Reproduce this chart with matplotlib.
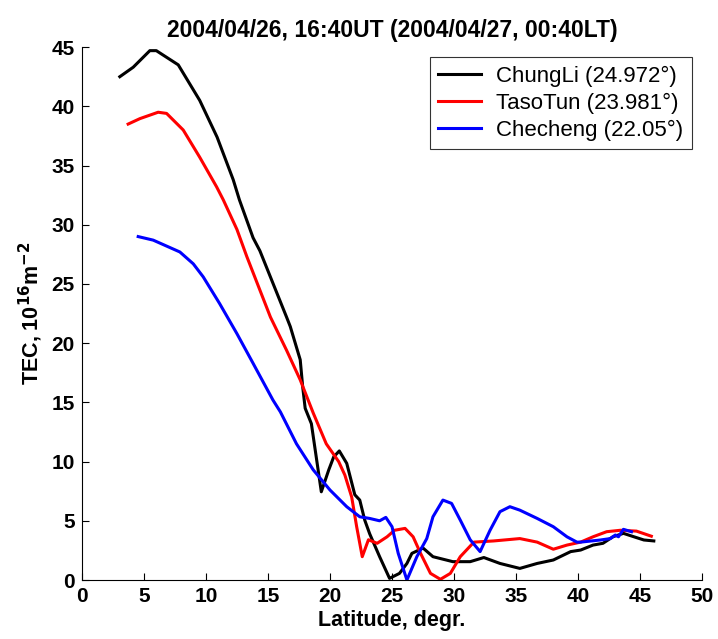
import matplotlib
matplotlib.use("Agg")
import matplotlib.pyplot as plt

plt.rcParams['font.family'] = ['Liberation Sans', 'DejaVu Sans']

# ChungLi (24.972 deg)
lat_chungli = [3.06, 4.14, 5.48, 6.0, 7.77, 9.5, 10.9, 12.2, 12.7, 13.8, 14.35, 16.5, 16.8,
               17.6, 17.8, 18.0, 18.5, 19.3, 19.9, 20.3, 20.75, 21.35, 22.0, 22.4, 22.8, 23.2,
               24.0, 24.8, 25.6, 26.2, 26.6, 27.5, 28.3, 29.9, 31.3, 32.4, 33.7, 35.3, 36.7,
               38.0, 39.4, 40.2, 41.2, 42.0, 42.8, 43.65, 44.5, 45.3, 46.1]
tec_chungli = [42.5, 43.3, 44.7, 44.7, 43.5, 40.5, 37.4, 33.8, 32.1, 28.9, 27.8, 22.2, 21.4,
               18.6, 16.3, 14.5, 13.2, 7.45, 9.3, 10.4, 10.9, 9.85, 7.2, 6.75, 5.06, 3.9,
               1.97, 0.14, 0.56, 1.4, 2.25, 2.7, 1.97, 1.55, 1.55, 1.9, 1.4, 0.98, 1.4,
               1.69, 2.4, 2.53, 2.95, 3.1, 3.65, 3.94, 3.65, 3.38, 3.3]

# TasoTun (23.981 deg)
lat_tasotun = [3.73, 4.68, 6.15, 6.83, 8.17, 9.5, 10.86, 11.4, 12.5, 13.3, 15.2, 16.5, 17.6,
               18.65, 19.7, 20.7, 21.2, 21.75, 22.15, 22.6, 23.1, 23.8, 24.6, 25.2, 26.05,
               26.7, 27.3, 28.1, 28.9, 29.7, 30.5, 31.6, 33.2, 35.3, 36.7, 38.0, 39.1, 40.2,
               41.2, 42.3, 43.4, 44.7, 45.9]
tec_tasotun = [38.5, 38.96, 39.5, 39.4, 38.0, 35.7, 33.2, 32.1, 29.6, 27.3, 22.2, 19.4, 16.9,
               14.1, 11.5, 10.0, 8.86, 7.0, 4.5, 1.97, 3.4, 3.1, 3.65, 4.2, 4.36,
               3.65, 2.25, 0.56, 0.06, 0.56, 1.97, 3.2, 3.3, 3.5, 3.2, 2.6, 2.95, 3.2,
               3.65, 4.08, 4.2, 4.13, 3.7]

# Checheng (22.05 deg)
lat_checheng = [4.54, 5.75, 7.9, 8.98, 9.78, 11.1, 12.5, 13.8, 15.4, 16.0, 17.3, 18.65, 20.0,
                21.35, 22.4, 23.2, 24.0, 24.5, 25.0, 25.5, 26.2, 27.0, 27.8, 28.3, 29.1,
                29.8, 30.5, 31.3, 32.1, 32.9, 33.7, 34.5, 35.3, 36.7, 38.0, 39.1, 39.9, 40.2,
                41.8, 42.6, 43.0, 43.25, 43.65, 44.3]
tec_checheng = [29.0, 28.7, 27.7, 26.7, 25.6, 23.35, 20.8, 18.3, 15.2, 14.2, 11.5, 9.3, 7.6,
                6.19, 5.34, 5.2, 5.0, 5.29, 4.5, 2.25, 0.0, 1.97, 3.5, 5.34, 6.75,
                6.47, 5.06, 3.4, 2.4, 4.2, 5.77, 6.19, 5.9, 5.2, 4.5, 3.65, 3.2, 3.2,
                3.38, 3.5, 3.8, 3.65, 4.28, 4.08]

labels = ['ChungLi (24.972°)', 'TasoTun (23.981°)', 'Checheng (22.05°)']
xticks = [0, 5, 10, 15, 20, 25, 30, 35, 40, 45, 50]
yticks = [0, 5, 10, 15, 20, 25, 30, 35, 40, 45]

fig = plt.figure(figsize=(7.18, 6.39), dpi=100)
ax = fig.add_axes([0.114, 0.0923, 0.864, 0.834])

ax.plot(lat_chungli, tec_chungli, color='black', lw=2.2, label=labels[0])
ax.plot(lat_tasotun, tec_tasotun, color='red', lw=2.2, label=labels[1])
ax.plot(lat_checheng, tec_checheng, color='blue', lw=2.2, label=labels[2])

ax.set_xlim(0, 50); ax.set_ylim(0, 45)
ax.set_xticks(xticks); ax.set_yticks(yticks)
ax.spines['top'].set_visible(False); ax.spines['right'].set_visible(False)
ax.tick_params(direction='in', length=5, labelsize=15, pad=5)
for t in ax.get_xticklabels() + ax.get_yticklabels():
    t.set_fontweight('bold')

ax.set_xlabel('Latitude, degr.', fontsize=15.5, fontweight='bold', labelpad=3)
ax.set_ylabel(r'TEC, 10$^{\mathbf{16}}$m$^{\mathbf{-2}}$', fontsize=15.5, fontweight='bold', labelpad=5)
ax.set_title('2004/04/26, 16:40UT (2004/04/27, 00:40LT)', fontsize=16.5, fontweight='bold', pad=7)

leg = ax.legend(loc='upper right', bbox_to_anchor=(0.984, 0.981), borderaxespad=0, fontsize=16,
                frameon=True, fancybox=False, edgecolor='black', handlelength=1.9,
                handletextpad=0.7, borderpad=0.4, labelspacing=0.25)
leg.get_frame().set_linewidth(0.8)

fig.savefig('out.png', dpi=100)
